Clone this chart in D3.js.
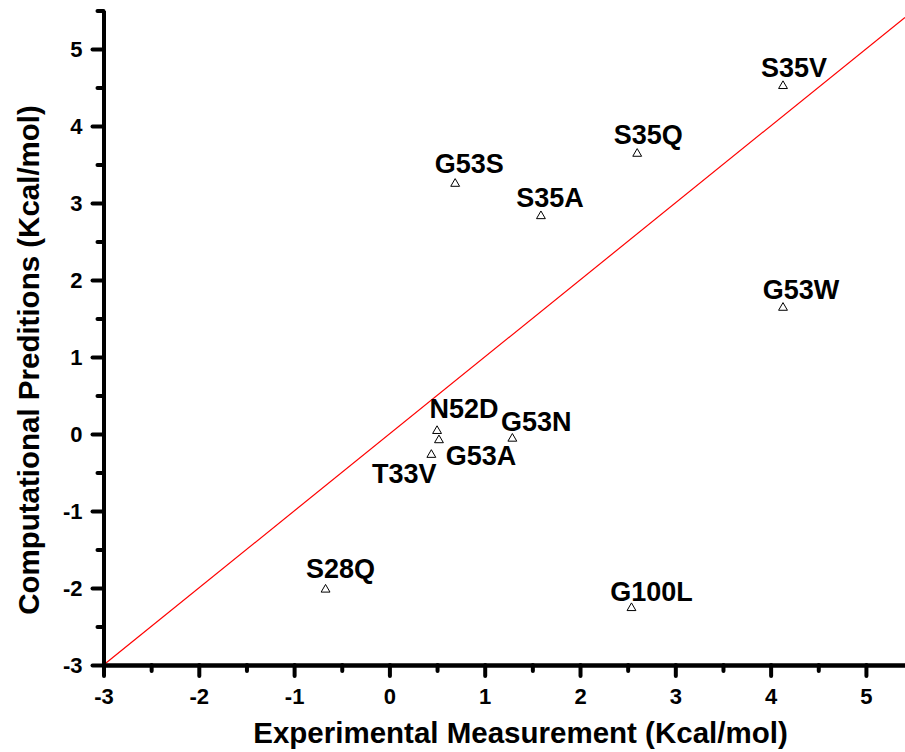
<!DOCTYPE html>
<html>
<head>
<meta charset="utf-8">
<script src="https://cdn.jsdelivr.net/npm/d3@7"></script>
<style>
  html, body { margin: 0; padding: 0; background: #fff; }
  svg { display: block; }
  text { font-family: "Liberation Sans", Arial, sans-serif; font-weight: bold; fill: #000; }
</style>
</head>
<body>
<svg id="chart" width="905" height="752"></svg>
<script>
// ---- data ----
const mutants   = ["S35V", "S35Q", "G53S", "S35A", "G53W", "N52D", "G53A", "T33V", "G53N", "S28Q", "G100L"];
const measured  = [4.13, 2.60, 0.69, 1.59, 4.13, 0.50, 0.52, 0.44, 1.29, -0.67, 2.54];
const predicted = [4.52, 3.64, 3.25, 2.83, 1.64, 0.04, -0.08, -0.27, -0.06, -2.02, -2.26];
const xMajorTicks = [-3, -2, -1, 0, 1, 2, 3, 4, 5];
const xMinorTicks = [-2.5, -1.5, -0.5, 0.5, 1.5, 2.5, 3.5, 4.5];
const yMajorTicks = [-3, -2, -1, 0, 1, 2, 3, 4, 5];
const yMinorTicks = [-2.5, -1.5, -0.5, 0.5, 1.5, 2.5, 3.5, 4.5, 5.5];
const xTitle = "Experimental Measurement (Kcal/mol)";
const yTitle = "Computational Preditions (Kcal/mol)";

// ---- layout (label placement in pixels, relative to each point) ----
const labelOffsets = {
  "S35V": [11, -9], "S35Q": [11, -10], "G53S": [14, -11], "S35A": [9, -9],
  "G53W": [18, -9], "N52D": [27, -13], "G53A": [42, 25], "T33V": [-27, 28],
  "G53N": [24, -8], "S28Q": [15, -12], "G100L": [20, -7]
};

const svg = d3.select("#chart");
const x = d3.scaleLinear().domain([-3, 5.41]).range([103.5, 905]);
const y = d3.scaleLinear().domain([-3, 5.5]).range([665, 10.5]);

const axisW = 4;
const fmt = d => String(d);  // plain hyphen minus, as in the reference

// reference line y = x
const xd = x.domain();
svg.append("line")
  .attr("x1", x(xd[0])).attr("y1", y(xd[0]))
  .attr("x2", x(xd[1])).attr("y2", y(xd[1]))
  .attr("stroke", "#ff0000").attr("stroke-width", 1.2);

// axes
function styleAxis(g) {
  g.selectAll(".domain").attr("stroke", "#000").attr("stroke-width", axisW);
  g.selectAll(".tick line").attr("stroke", "#000").attr("stroke-width", axisW).attr("stroke-linecap", "round");
}
function styleLabels(g) {
  g.selectAll(".tick text").style("font-size", "22px")
    .style("font-family", '"Liberation Sans", Arial, sans-serif').style("font-weight", "bold");
}

const gx = svg.append("g").attr("transform", `translate(0,${y(-3)})`);
gx.append("g").call(d3.axisBottom(x).tickValues(xMinorTicks).tickSize(6).tickSizeOuter(0).tickFormat(""))
  .call(styleAxis);
gx.append("g").call(d3.axisBottom(x).tickValues(xMajorTicks).tickSize(11).tickSizeOuter(0).tickPadding(12).tickFormat(fmt))
  .call(styleAxis).call(styleLabels);

const gy = svg.append("g").attr("transform", `translate(${x(-3)},0)`);
gy.append("g").call(d3.axisLeft(y).tickValues(yMinorTicks).tickSize(6).tickSizeOuter(0).tickFormat(""))
  .call(styleAxis);
gy.append("g").call(d3.axisLeft(y).tickValues(yMajorTicks).tickSize(11).tickSizeOuter(0).tickPadding(10).tickFormat(fmt))
  .call(styleAxis).call(styleLabels);

// points
const pts = mutants.map((m, i) => ({ name: m, mx: measured[i], py: predicted[i] }));
const tri = d3.symbol().type(d3.symbolTriangle).size(34);
svg.append("g").selectAll("path").data(pts).join("path")
  .attr("d", tri)
  .attr("transform", d => `translate(${x(d.mx)},${y(d.py)})`)
  .attr("fill", "none").attr("stroke", "#000").attr("stroke-width", 1);

// labels
svg.append("g").selectAll("text").data(pts).join("text")
  .attr("x", d => x(d.mx) + labelOffsets[d.name][0])
  .attr("y", d => y(d.py) + labelOffsets[d.name][1])
  .attr("text-anchor", "middle")
  .style("font-size", "27px")
  .text(d => d.name);

// titles
svg.append("text")
  .attr("x", (253 + 788) / 2).attr("y", 743)
  .attr("text-anchor", "middle").style("font-size", "29.5px")
  .text(xTitle);
svg.append("text")
  .attr("transform", `translate(39,${(105 + 615) / 2}) rotate(-90)`)
  .attr("text-anchor", "middle").style("font-size", "29.5px")
  .text(yTitle);
</script>
</body>
</html>
